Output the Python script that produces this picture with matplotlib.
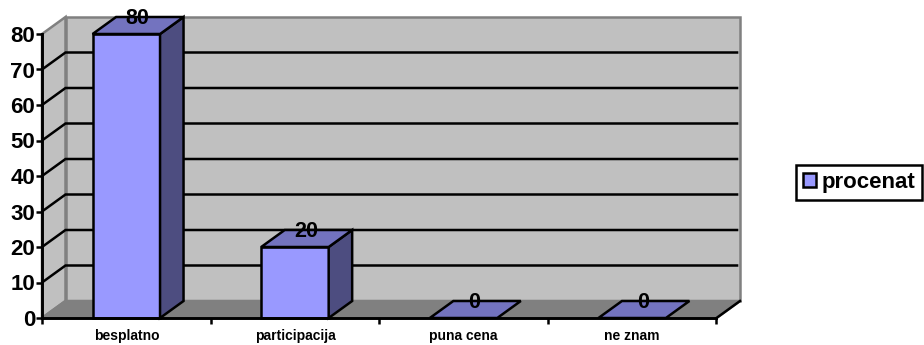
import matplotlib
matplotlib.use("Agg")
import matplotlib.pyplot as plt
from matplotlib.patches import Polygon, Patch

categories = ["besplatno", "participacija", "puna cena", "ne znam"]
values = [80, 20, 0, 0]
series_name = "procenat"
y_ticks = [0, 10, 20, 30, 40, 50, 60, 70, 80]

W, H = 924, 345
plt.rcParams['font.family'] = ['Liberation Sans', 'DejaVu Sans']
plt.rcParams['font.weight'] = 'bold'
fig = plt.figure(figsize=(W / 100, H / 100), dpi=100)

L, R, B, T = 42, 716.5, 318, 34
ax = fig.add_axes([L / W, 1 - B / H, (R - L) / W, (B - T) / H])
ax.set_xlim(0, len(categories))
ax.set_ylim(0, 80)
ax.patch.set_visible(False)

ux = (R - L) / len(categories)
uy = (B - T) / 80
dx = 23.5 / ux
dy = 17 / uy
top = y_ticks[-1]
n = len(categories)
lw = 1.8
WALL, FLOOR, EDGE = "#C0C0C0", "#808080", "#808080"
FRONT, TOP, SIDE = "#9999FF", "#7373BF", "#4D4D80"


def poly(pts, fc, ec, lw=lw, z=1):
    ax.add_patch(Polygon(pts, closed=True, facecolor=fc, edgecolor=ec, linewidth=lw,
                         clip_on=False, zorder=z, joinstyle='miter'))


# walls and floor
poly([(0, 0), (dx, dy), (dx, top + dy), (0, top)], WALL, EDGE, z=1)
poly([(dx, dy), (n + dx, dy), (n + dx, top + dy), (dx, top + dy)], WALL, EDGE, z=1)
poly([(0, 0), (n, 0), (n + dx, dy), (dx, dy)], FLOOR, FLOOR, z=1.5)
ax.plot([n, n + dx], [0, dy], color="black", lw=lw, clip_on=False, zorder=2)

# gridlines
for v in y_ticks[1:-1]:
    ax.plot([0, dx, n + dx - 0.01], [v, v + dy, v + dy], color="black", lw=lw,
            clip_on=False, zorder=2, solid_capstyle='butt', solid_joinstyle='miter')

# bars
bw = 0.4
for i, v in enumerate(values):
    x0 = i + 0.5 - bw / 2
    x1 = x0 + bw
    if v > 0:
        ax.bar(i + 0.5, v, width=bw, color=FRONT, edgecolor="black", linewidth=lw,
               clip_on=False, zorder=3)
        poly([(x1, 0), (x1 + dx, dy), (x1 + dx, v + dy), (x1, v)], SIDE, "black", z=3)
    poly([(x0, v), (x1, v), (x1 + dx, v + dy), (x0 + dx, v + dy)], TOP, "black", z=3)
    ax.text(i + 0.5 + dx / 2 - 0.005, v + dy - 0.5, str(v), ha="center", va="center",
            fontsize=15.5, fontweight="bold", color="black", zorder=5, clip_on=False)

# axes
for s in ("top", "right"):
    ax.spines[s].set_visible(False)
for s in ("left", "bottom"):
    ax.spines[s].set_linewidth(lw + 0.3)
    ax.spines[s].set_zorder(4)
ax.set_yticks(y_ticks)
ax.set_yticklabels([str(v) for v in y_ticks], fontsize=16, fontweight="bold")
ax.tick_params(axis="y", length=4, width=lw, pad=1)
ax.set_xticks(range(n + 1))
ax.set_xticklabels([])
ax.tick_params(axis="x", which="major", length=4, width=lw)
ax.set_xticks([i + 0.5 for i in range(n)], minor=True)
ax.set_xticklabels(categories, minor=True, fontsize=10, fontweight="bold")
ax.tick_params(axis="x", which="minor", length=0, pad=8)

# legend
leg = fig.legend(handles=[Patch(facecolor=FRONT, edgecolor="black", linewidth=lw, label=series_name)],
                 loc="center", bbox_to_anchor=(859 / W, 1 - 182.5 / H),
                 prop={"size": 16, "weight": "bold"}, frameon=True, fancybox=False,
                 edgecolor="black", framealpha=1, handlelength=0.6, handleheight=0.6,
                 handletextpad=0.25, borderpad=0.3, borderaxespad=0)
leg.get_frame().set_linewidth(lw)

fig.savefig("out.png", dpi=100, facecolor="white")
